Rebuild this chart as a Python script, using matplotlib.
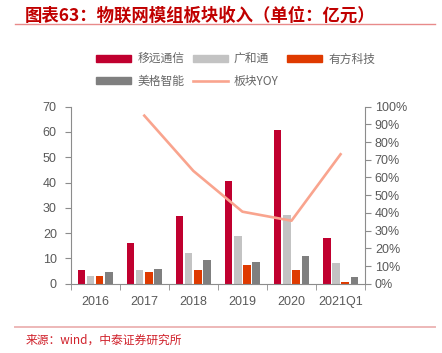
import numpy as np
import matplotlib
matplotlib.use('Agg')
import matplotlib.pyplot as plt
from matplotlib.lines import Line2D

plt.rcParams['font.family'] = ['Liberation Sans', 'Noto Sans CJK SC', 'DejaVu Sans']

years = ['2016', '2017', '2018', '2019', '2020', '2021Q1']
quectel = [5.5, 16.2, 26.6, 40.8, 60.9, 18.2]     # 移远通信
fibocom = [3.0, 5.3, 12.3, 18.7, 27.0, 8.3]       # 广和通
neoway = [3.0, 4.5, 5.3, 7.6, 5.5, 0.9]           # 有方科技
meig = [4.5, 6.0, 9.5, 8.8, 11.1, 2.5]            # 美格智能
yoy = [np.nan, 0.949, 0.637, 0.407, 0.356, 0.731]  # 板块YOY

names = ['移远通信', '广和通', '有方科技', '美格智能']
colors = ['#C0002F', '#C3C3C3', '#DF3A00', '#7F7F7F']
axis_grey = '#8C8C8C'
text_grey = '#595959'

fig = plt.figure(figsize=(4.42, 3.53), dpi=100)
ax = fig.add_axes([0.160, 0.196, 0.666, 0.502])
ax2 = ax.twinx()

x = np.arange(len(years))
offsets = [-0.28, -0.093, 0.093, 0.28]
for vals, off, c in zip([quectel, fibocom, neoway, meig], offsets, colors):
    ax.bar(x + off, vals, width=0.15, color=c, zorder=2)

ax2.plot(x, yoy, color='#F9A48E', lw=1.9, zorder=3)

ax.set_xlim(-0.5, len(years) - 0.5)
ax.set_ylim(0, 70)
ax.set_yticks(np.arange(0, 71, 10))
ax2.set_ylim(0, 1.0)
ax2.set_yticks(np.arange(0, 1.01, 0.1))
ax2.set_yticklabels(['%d%%' % round(v * 100) for v in np.arange(0, 1.01, 0.1)])

ax.set_xticks(x)
ax.set_xticklabels(years)
ax.set_xticks(np.arange(-0.5, len(years)), minor=True)
ax.tick_params(axis='x', which='major', length=0, pad=9, labelsize=9, labelcolor=text_grey)
ax.tick_params(axis='x', which='minor', length=4, color=axis_grey, direction='out')
ax.tick_params(axis='y', length=4, color=axis_grey, labelsize=9, labelcolor=text_grey, pad=6)
ax2.tick_params(axis='y', length=4, color=axis_grey, labelsize=9, labelcolor=text_grey, pad=3)

for a in (ax, ax2):
    a.spines['top'].set_visible(False)
    for s in ('left', 'right', 'bottom'):
        a.spines[s].set_color(axis_grey)
ax.spines['right'].set_visible(False)
ax2.spines['left'].set_visible(False)
ax2.spines['bottom'].set_visible(False)

# legend (column-wise fill for 3 columns)
handles = [plt.Rectangle((0, 0), 1, 1, color=c) for c in colors]
yoy_handle = Line2D([0], [0], color='#F9A48E', lw=1.9)
order_h = [handles[0], handles[3], handles[1], yoy_handle, handles[2]]
order_l = [names[0], names[3], names[1], '板块YOY', names[2]]
leg = fig.legend(order_h, order_l, ncol=3, loc='upper left', bbox_to_anchor=(0.193, 0.88),
                 frameon=False, fontsize=8.5, handlelength=3.0, handleheight=0.55,
                 handletextpad=0.5, columnspacing=0.7, labelspacing=0.75)
for t in leg.get_texts():
    t.set_color('#666666')
    t.set_family(['Noto Sans CJK SC', 'DejaVu Sans'])

# title and source
fig.text(0.055, 0.955, '图表63：物联网模组板块收入（单位：亿元）', color='#C00000',
         fontsize=12.5, fontweight='bold', style='italic', va='center',
         family=['Noto Sans CJK SC', 'DejaVu Sans'])
fig.add_artist(Line2D([0.034, 0.984], [0.932, 0.932], color='#E88A8A', lw=1.0))
fig.add_artist(Line2D([0.034, 0.984], [0.074, 0.074], color='#EDB8B8', lw=1.4))
fig.text(0.057, 0.037, '来源：wind，中泰证券研究所', color='#D0202A', fontsize=8.5, va='center',
         family=['Noto Sans CJK SC', 'DejaVu Sans'])

fig.savefig('out.png', dpi=100)
